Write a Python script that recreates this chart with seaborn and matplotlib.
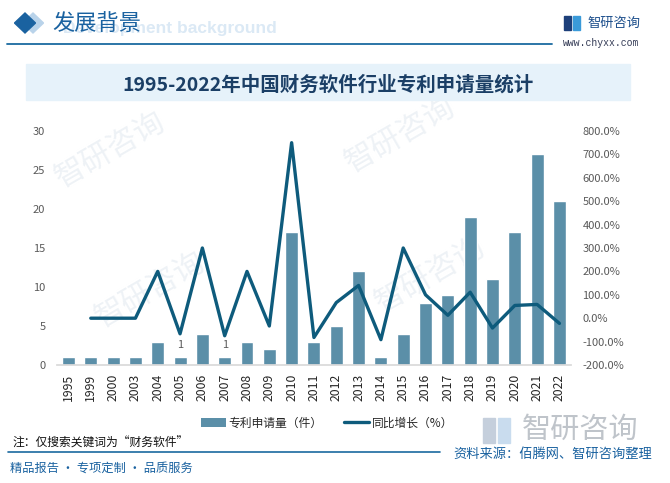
import numpy as np
import pandas as pd
import matplotlib
matplotlib.use("Agg")
import matplotlib.pyplot as plt
from matplotlib.patches import Rectangle, Polygon, Patch
from matplotlib.lines import Line2D
import seaborn as sns

years = ["1995", "1999", "2000", "2003", "2004", "2005", "2006", "2007", "2008", "2009",
         "2010", "2011", "2012", "2013", "2014", "2015", "2016", "2017", "2018", "2019",
         "2020", "2021", "2022"]
counts = [1, 1, 1, 1, 3, 1, 4, 1, 3, 2, 17, 3, 5, 12, 1, 4, 8, 9, 19, 11, 17, 27, 21]
growth = [np.nan, 0, 0, 0, 200, -66.7, 300, -75, 200, -33.3, 750, -82.4, 66.7, 140,
          -91.7, 300, 100, 12.5, 111.1, -42.1, 54.5, 58.8, -22.2]
labelled_years = ["2005", "2007"]
left_ticks = [0, 5, 10, 15, 20, 25, 30]
right_ticks = [-200, -100, 0, 100, 200, 300, 400, 500, 600, 700, 800]

title = "1995-2022年中国财务软件行业专利申请量统计"
bar_name = "专利申请量（件）"
line_name = "同比增长（%）"

sns.set_theme(style="white")
plt.rcParams['font.family'] = ['Noto Sans CJK SC', 'DejaVu Sans']

W, H = 670, 483
fig = plt.figure(figsize=(W / 100, H / 100), dpi=100)
fig.patch.set_facecolor("white")


def fx(x):
    return x / W


def fy(y):
    return 1 - y / H


BAR = "#5b8fa8"
LINE = "#0e5b7c"
BLUE = "#1a62a0"

# faint watermarks (behind everything)
for (wx, wy) in [(110, 150), (400, 135), (150, 290), (430, 275)]:
    fig.text(fx(wx), fy(wy), "智研咨询", fontsize=22, color="#eef2f6", rotation=30,
             ha="center", va="center", zorder=-5)

# header
fig.add_artist(Polygon([(fx(33), fy(13)), (fx(43.5), fy(23)), (fx(33), fy(33)), (fx(22.5), fy(23))],
                       closed=True, transform=fig.transFigure, color="#b9d3ea", zorder=1))
fig.add_artist(Polygon([(fx(25), fy(13)), (fx(35.5), fy(23)), (fx(25), fy(33)), (fx(14.5), fy(23))],
                       closed=True, transform=fig.transFigure, color="#1a62a0", zorder=2))
fig.text(fx(63), fy(28), "Development background", fontsize=12.5, fontweight="bold",
         family=["Liberation Sans", "DejaVu Sans"], color="#dbe9f5", ha="left", va="center", zorder=1)
fig.text(fx(52), fy(23), "发展背景", fontsize=16, color=BLUE, ha="left", va="center", zorder=3)
fig.add_artist(Line2D([fx(7), fx(552)], [fy(44), fy(44)], transform=fig.transFigure,
                      color="#1a6aa0", lw=1.3))

# logo top right
fig.add_artist(Rectangle((fx(564), fy(30)), 7 / W, 14 / H, transform=fig.transFigure, color="#1d3f7a"))
fig.add_artist(Rectangle((fx(573), fy(30)), 7 / W, 14 / H, transform=fig.transFigure, color="#3a9ad9"))
fig.text(fx(587), fy(23), "智研咨询", fontsize=9.5, color="#1d4f8c", ha="left", va="center")
fig.text(fx(563), fy(43), "www.chyxx.com", fontsize=7, family=["Liberation Mono", "DejaVu Sans Mono"],
         color="#333a55", ha="left", va="center")

# title band
fig.add_artist(Rectangle((fx(26), fy(100)), 604 / W, 36 / H, transform=fig.transFigure,
                         color="#e6f2fa", zorder=0))
fig.text(fx(328), fy(85), title, fontsize=14, fontweight="bold", color="#1b3f66",
         ha="center", va="center")

# main axes
ax = fig.add_axes([fx(57.3), fy(365), (570.6 - 57.3) / W, (365 - 131) / H])
ax.patch.set_alpha(0)
df = pd.DataFrame({"year": years, "count": counts, "growth": growth})
sns.barplot(data=df, x="year", y="count", color=BAR, saturation=1, width=0.58, ax=ax, zorder=2)
ax.set_ylim(0, 30)
ax.set_yticks(left_ticks)
ax.set_xlim(-0.5, len(years) - 0.5)
ax.set_xlabel("")
ax.set_ylabel("")
for s in ["top", "right", "left"]:
    ax.spines[s].set_visible(False)
ax.spines["bottom"].set_color("#d9d9d9")
ax.tick_params(axis="y", length=0, pad=8.6, labelsize=8, labelcolor="#595959")
ax.tick_params(axis="x", length=0, pad=6.5, labelsize=8.8, labelcolor="#262626", rotation=90)

for y in labelled_years:
    i = years.index(y)
    ax.annotate(str(counts[i]), (i, counts[i]), xytext=(0, 5), textcoords="offset points",
                ha="center", va="bottom", fontsize=8, color="#595959")

ax2 = ax.twinx()
ax2.patch.set_alpha(0)
df["pos"] = np.arange(len(years))
sns.lineplot(data=df, x="pos", y="growth", color=LINE, lw=2.4, ax=ax2, zorder=3)
ax2.set_ylim(-200, 800)
ax2.set_yticks(right_ticks)
ax2.set_yticklabels([f"{v:.1f}%" for v in right_ticks])
ax2.set_xlim(-0.5, len(years) - 0.5)
ax2.set_ylabel("")
ax2.set_xlabel("")
for s in ax2.spines.values():
    s.set_visible(False)
ax2.tick_params(axis="y", length=0, pad=8.6, labelsize=8, labelcolor="#595959")

# legend
handles = [Patch(facecolor=BAR, edgecolor="none"), Line2D([0], [0], color=LINE, lw=2.4)]
fig.legend(handles, [bar_name, line_name], loc="center", bbox_to_anchor=(fx(327), fy(423)),
           ncol=2, frameon=False, fontsize=8.5, handlelength=2.1, handletextpad=0.25,
           columnspacing=1.8, borderpad=0)

# footer
fig.text(fx(12), fy(443), "注：仅搜索关键词为“财务软件”", fontsize=8.5, color="#111111",
         ha="left", va="center")
fig.add_artist(Line2D([fx(8), fx(440)], [fy(452), fy(452)], transform=fig.transFigure,
                      color="#1a6aa0", lw=1.2))
fig.text(fx(10), fy(468), "精品报告 · 专项定制 · 品质服务", fontsize=8.8, color=BLUE,
         ha="left", va="center")
fig.add_artist(Rectangle((fx(483), fy(443)), 12 / W, 25 / H, transform=fig.transFigure, color="#c5cfdc"))
fig.add_artist(Rectangle((fx(498), fy(443)), 12 / W, 25 / H, transform=fig.transFigure, color="#c9dcee"))
fig.text(fx(522), fy(430), "智研咨询", fontsize=21, color="#bfc4ca", ha="left", va="center")
fig.text(fx(652), fy(454), "资料来源：佰腾网、智研咨询整理", fontsize=9.5, color=BLUE,
         ha="right", va="center")

fig.savefig("out.png", dpi=100)
